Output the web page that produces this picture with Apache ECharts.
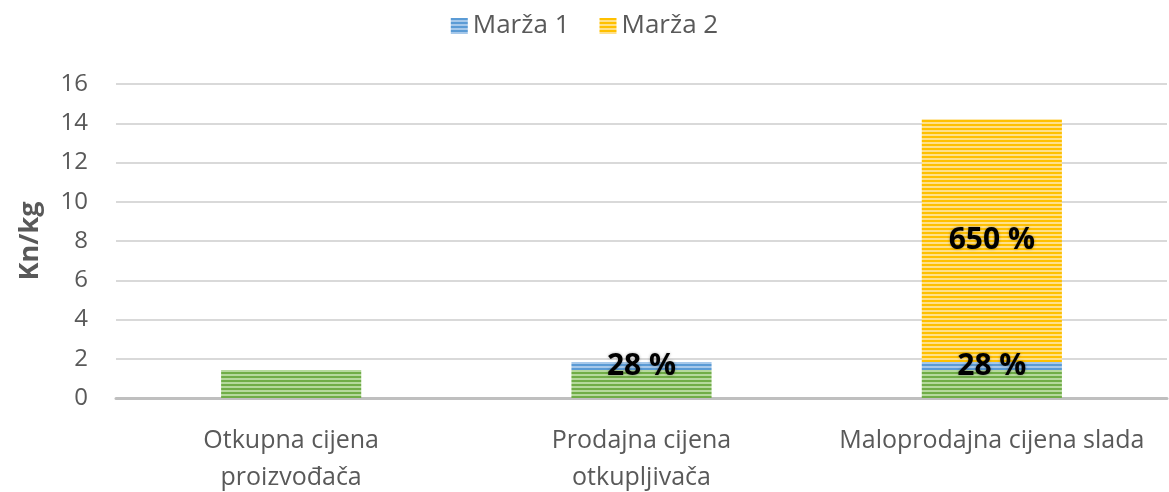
<!DOCTYPE html>
<html>
<head>
<meta charset="utf-8">
<script src="https://cdn.jsdelivr.net/npm/echarts@6/dist/echarts.min.js"></script>
<style>
  html, body { margin: 0; padding: 0; background: #fff; }
  #Mycharts { width: 1169px; height: 492px; }
</style>
</head>
<body>
<div id="Mycharts"></div>
<script>
const categories = ['Otkupna cijena\nproizvođača', 'Prodajna cijena\notkupljivača', 'Maloprodajna cijena slada']
const baseValues = [1.43, 1.43, 1.43]
const marza1 = [null, 0.4, 0.4]
const marza2 = [null, null, 12.37]
const marza1Labels = ['', '28 %', '28 %']
const marza2Labels = ['', '', '650 %']
const yTicks = [0, 2, 4, 6, 8, 10, 12, 14, 16]

// horizontal stripe pattern like the original fill
function stripes (dark, light) {
  const c = document.createElement('canvas')
  c.width = 4
  c.height = 4
  const ctx = c.getContext('2d')
  ctx.fillStyle = light
  ctx.fillRect(0, 0, 4, 4)
  ctx.fillStyle = dark
  ctx.fillRect(0, 0, 4, 2)
  return { image: c, repeat: 'repeat' }
}

const green = stripes('#70AD47', '#B5D99C')
const blue = stripes('#5B9BD5', '#A6C8EA')
const yellow = stripes('#FFC000', '#FFE08A')

const font = '"Open Sans", sans-serif'
const labelStyle = {
  show: true,
  position: 'inside',
  color: '#000',
  fontFamily: font,
  fontWeight: 'bold',
  fontSize: 30,
  textShadowColor: 'rgba(0,0,0,0.35)',
  textShadowBlur: 3
}

const chart = echarts.init(document.getElementById('Mycharts'))
chart.setOption({
  animation: false,
  textStyle: { fontFamily: font },
  legend: {
    top: 8,
    left: 'center',
    icon: 'rect',
    data: ['Marža 1', 'Marža 2'],
    itemWidth: 17,
    itemHeight: 16,
    itemGap: 30,
    textStyle: { fontSize: 26, color: '#595959', fontFamily: font }
  },
  grid: { left: 116, right: 2, top: 84, bottom: 94, outerBoundsMode: 'none' },
  xAxis: {
    type: 'category',
    data: categories,
    axisTick: { show: false },
    axisLine: { lineStyle: { color: '#BFBFBF', width: 3 } },
    axisLabel: { fontSize: 25, color: '#595959', lineHeight: 37, margin: 24, interval: 0 }
  },
  yAxis: {
    type: 'value',
    min: yTicks[0],
    max: yTicks[yTicks.length - 1],
    interval: 2,
    name: 'Kn/kg',
    nameLocation: 'middle',
    nameGap: 72,
    nameMoveOverlap: false,
    nameTextStyle: { fontSize: 27, fontWeight: 'bold', color: '#595959' },
    axisLabel: { fontSize: 24, color: '#595959', margin: 28 },
    splitLine: { lineStyle: { color: '#D9D9D9', width: 2 } }
  },
  series: [
    {
      name: 'base',
      type: 'bar',
      stack: 'total',
      barWidth: '40%',
      itemStyle: { color: green },
      data: baseValues
    },
    {
      name: 'Marža 1',
      type: 'bar',
      stack: 'total',
      itemStyle: { color: blue },
      label: Object.assign({}, labelStyle, {
        formatter: p => marza1Labels[p.dataIndex]
      }),
      data: marza1
    },
    {
      name: 'Marža 2',
      type: 'bar',
      stack: 'total',
      itemStyle: { color: yellow },
      label: Object.assign({}, labelStyle, {
        formatter: p => marza2Labels[p.dataIndex]
      }),
      data: marza2
    }
  ]
})
</script>
</body>
</html>
